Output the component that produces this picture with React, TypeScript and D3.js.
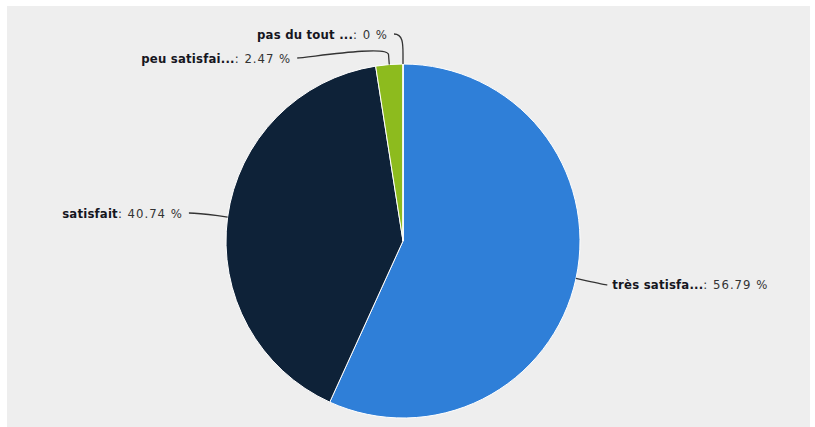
import React from "react";
import * as d3 from "d3";

const categories = ["très satisfait", "satisfait", "peu satisfait", "pas du tout satisfait"];
const shortLabels = ["très satisfa...", "satisfait", "peu satisfai...", "pas du tout ..."];
const values = [56.79, 40.74, 2.47, 0];
const valueLabels = ["56.79 %", "40.74 %", "2.47 %", "0 %"];
const colors = ["#2f7fd8", "#0e2238", "#8dbb1e", "#e4d354"];

const W = 815;
const H = 427;
const cx = 403;
const cy = 241;
const r = 177;
const distance = 30;

export default function App() {
  const pie = d3
    .pie<number>()
    .sort(null)
    .value((d) => d)
    .startAngle(0)
    .endAngle(2 * Math.PI);
  const arcs = pie(values);
  const arc = d3.arc<d3.PieArcDatum<number>>().innerRadius(0).outerRadius(r);

  const RL = r + distance;
  type L = { i: number; a: number; left: boolean; y: number; x: number };
  const labs: L[] = arcs.map((p, i) => {
    const a = (p.startAngle + p.endAngle) / 2;
    const left = a > Math.PI;
    return { i, a, left, y: cy - RL * Math.cos(a), x: 0 };
  });
  const gap = 24;
  [true, false].forEach((side) => {
    const group = labs.filter((l) => l.left === side).sort((p, q) => p.y - q.y);
    for (let k = 1; k < group.length; k++) {
      if (group[k].y < group[k - 1].y + gap) group[k].y = group[k - 1].y + gap;
    }
  });
  labs.forEach((l) => {
    const t = Math.max(-1, Math.min(1, (l.y - cy) / RL));
    const dx = Math.cos(Math.asin(t)) * RL;
    l.x = cx + (l.left ? -dx : dx);
  });

  const font = "'DejaVu Sans Condensed', 'DejaVu Sans', sans-serif";

  return (
    <div style={{ position: "fixed", left: 0, top: 0 }}>
      <svg width={W} height={H} style={{ display: "block" }}>
        <rect x={0} y={0} width={W} height={H} fill="#ffffff" />
        <rect x={7} y={6} width={803} height={H - 6} fill="#eeeeee" />
        <g transform={`translate(${cx},${cy})`}>
          {arcs.map((p, i) => (
            <path key={categories[i]} d={arc(p) || ""} fill={colors[i]} stroke="#ffffff" strokeWidth={1} strokeLinejoin="round" />
          ))}
        </g>
        {labs.map((l) => {
          const sx = Math.sin(l.a);
          const cy2 = -Math.cos(l.a);
          const x1 = cx + (r + 10) * sx;
          const y1 = cy + (r + 10) * cy2;
          const x2 = cx + r * sx;
          const y2 = cy + r * cy2;
          const startX = l.x + (l.left ? -9 : 2);
          const path = `M${startX},${l.y} C${l.x},${l.y} ${2 * x1 - x2},${2 * y1 - y2} ${x1},${y1} L${x2},${y2}`;
          const tx = l.x + (l.left ? -15 : 7);
          return (
            <g key={"lab" + l.i}>
              <path d={path} fill="none" stroke="#333333" strokeWidth={1.3} />
              <text
                x={tx}
                y={l.y}
                dy="0.35em"
                textAnchor={l.left ? "end" : "start"}
                fontFamily={font}
                fontSize={13}
                fill="#333333"
              >
                <tspan fontWeight="bold" fill="#16161e" letterSpacing={0.2}>{shortLabels[l.i]}</tspan>
                <tspan letterSpacing={1}>: {valueLabels[l.i]}</tspan>
              </text>
            </g>
          );
        })}
      </svg>
    </div>
  );
}
